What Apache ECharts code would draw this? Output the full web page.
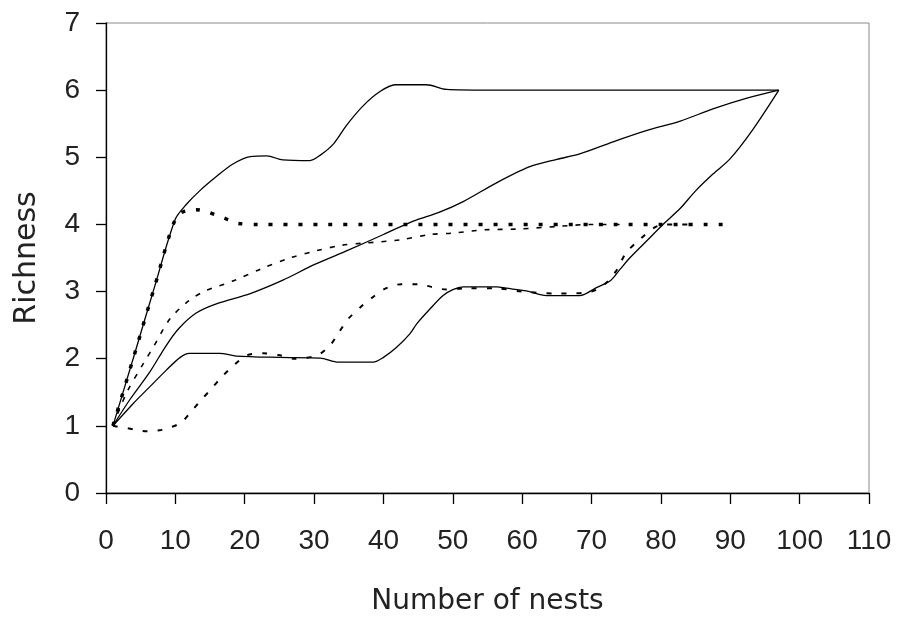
<!DOCTYPE html>
<html>
<head>
<meta charset="utf-8">
<script src="https://cdn.jsdelivr.net/npm/echarts@6/dist/echarts.min.js"></script>
<style>
html,body{margin:0;padding:0;background:#fff;}
#c{width:903px;height:621px;}
</style>
</head>
<body>
<div id="c"></div>
<script>
// x ticks
var xTicks = [0,10,20,30,40,50,60,70,80,90,100,110];
var yTicks = [0,1,2,3,4,5,6,7];

// Upper solid curve (maximum)
var maxCurve = [[1,1],[4,2.03],[7,3.07],[10,4.08],[11.6,4.3],[13.5,4.5],[16,4.72],[18.3,4.9],[20.8,5.01],[23.2,5.02],[25.5,4.96],[29.4,4.95],[31,5.04],[32.8,5.2],[34.7,5.48],[37.1,5.77],[39.5,5.98],[41.7,6.08],[46.2,6.08],[49.1,6.01],[55,6],[97,6]];
// Middle solid curve (mean)
var meanCurve = [[1,1],[3.5,1.4],[6.3,1.8],[8.7,2.2],[10.5,2.45],[13,2.68],[16,2.82],[20.8,2.97],[25.5,3.17],[30,3.4],[35,3.62],[40,3.85],[44.3,4.05],[48,4.18],[51.5,4.34],[56.3,4.62],[61.1,4.86],[65,4.97],[68.3,5.05],[73.1,5.23],[78,5.4],[82.8,5.54],[87.5,5.72],[92.4,5.88],[97,6]];
// Lower solid curve (minimum)
var minCurve = [[1,1],[3.9,1.33],[6.3,1.58],[8.7,1.83],[10.7,2.02],[12,2.08],[16.4,2.08],[18.8,2.04],[25,2.02],[30.9,2.01],[33.5,1.95],[38.5,1.95],[40,2.02],[41.9,2.17],[43.8,2.37],[44.8,2.52],[46.7,2.74],[48.6,2.94],[50,3.03],[51.5,3.07],[56.3,3.07],[57.7,3.05],[60.6,3.01],[63.5,2.94],[68.3,2.94],[70.7,3.06],[72.7,3.16],[74.1,3.33],[75.5,3.5],[77.9,3.75],[80.3,4.0],[82.8,4.24],[85,4.5],[87.5,4.75],[90,4.98],[93.3,5.42],[97,6]];
// Thick dotted curve
var dottedCurve = [[1,1],[4,2.03],[7,3.07],[10,4.08],[11.6,4.21],[13,4.22],[14.5,4.19],[16.9,4.1],[18.8,4.02],[22,4],[90,4]];
// Dash-dot curve
var dashDotCurve = [[1,1],[3,1.5],[5.4,1.93],[6.8,2.17],[9.2,2.59],[11.9,2.86],[14.3,3.01],[18.4,3.16],[22.4,3.34],[26.5,3.5],[30.4,3.61],[34,3.69],[37,3.72],[42.4,3.77],[46.7,3.85],[50,3.87],[54.6,3.92],[59.2,3.93],[65,3.97],[70,4],[75,4]];
// Dashed curve
var dashedCurve = [[1,1],[3.9,0.95],[5.9,0.92],[8,0.94],[10.7,1.04],[12.1,1.19],[13.5,1.36],[15,1.53],[16.7,1.73],[18.4,1.9],[20.3,2.05],[22.7,2.08],[25.1,2.05],[27,2.0],[30.4,2.05],[32.3,2.2],[33.5,2.38],[34.9,2.59],[36.6,2.76],[38.5,2.92],[40.2,3.04],[42.6,3.11],[45,3.11],[46.9,3.07],[49.1,3.03],[52,3.05],[56,3.05],[60,3.0],[65,2.97],[70,3.0],[72,3.12],[73.5,3.3],[75,3.58],[77,3.78],[79,3.95],[80.5,4.0],[85,4]];

var font = 'Liberation Sans, Arial, sans-serif';
var nameFont = 'DejaVu Sans, Liberation Sans, sans-serif';
var chart = echarts.init(document.getElementById('c'), null, {renderer:'canvas'});

function line(data, width, type, z){
  return {
    type:'line', data:data, showSymbol:false, symbol:'none', smooth:0.3,
    lineStyle:{color:'#000', width:width, type:type, cap:'butt'},
    z:z, animation:false
  };
}

chart.setOption({
  animation:false,
  backgroundColor:'#fff',
  grid:{left:106, right:34, top:23, bottom:124, show:true, borderColor:'#8a8a8a', borderWidth:1, backgroundColor:'transparent'},
  xAxis:{
    type:'value', min:xTicks[0], max:xTicks[xTicks.length-1], interval:10,
    name:'Number of nests', nameLocation:'middle', nameGap:95,
    nameTextStyle:{fontFamily:nameFont, fontSize:28, color:'#222'},
    axisLine:{show:true, onZero:false, lineStyle:{color:'#000', width:1.3}},
    axisTick:{show:true, inside:false, length:11, lineStyle:{color:'#000', width:1.3}},
    axisLabel:{fontFamily:font, fontSize:28, color:'#222', margin:34},
    splitLine:{show:false}
  },
  yAxis:{
    type:'value', min:yTicks[0], max:yTicks[yTicks.length-1], interval:1,
    name:'Richness', nameLocation:'middle', nameGap:64,
    nameTextStyle:{fontFamily:nameFont, fontSize:30, color:'#222'},
    axisLine:{show:true, onZero:false, lineStyle:{color:'#000', width:1.3}},
    axisTick:{show:true, inside:false, length:10, lineStyle:{color:'#000', width:1.3}},
    axisLabel:{fontFamily:font, fontSize:28, color:'#222', margin:26},
    splitLine:{show:false}
  },
  series:[
    line(maxCurve, 1.3, 'solid', 3),
    line(meanCurve, 1.3, 'solid', 3),
    line(minCurve, 1.3, 'solid', 3),
    line(dottedCurve, 3.5, [4,11], 4),
    line(dashDotCurve, 1.6, [5,8], 2),
    line(dashedCurve, 2, [5,10], 2)
  ]
});
</script>
</body>
</html>
